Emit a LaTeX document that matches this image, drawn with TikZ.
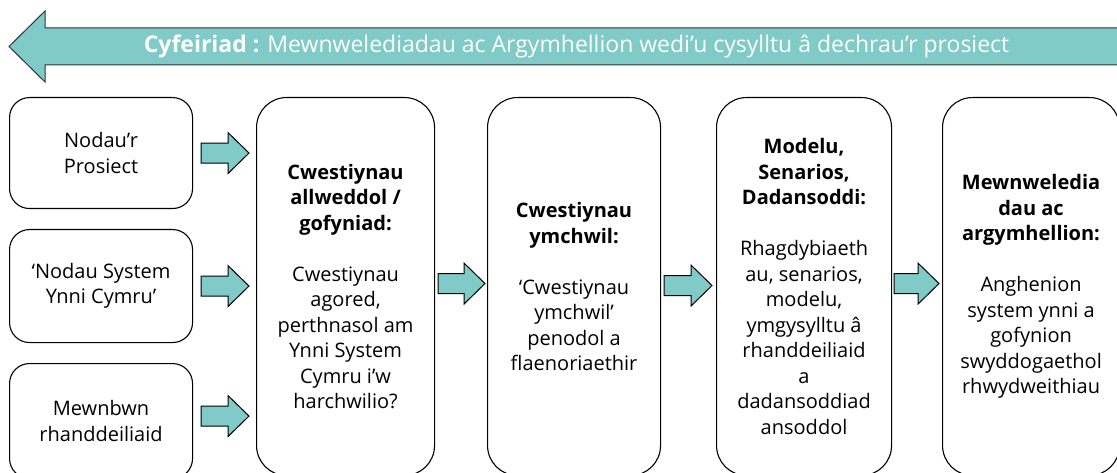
\documentclass[tikz,border=0pt]{standalone}
\usepackage{fontspec}
\setmainfont{Open Sans}
\usetikzlibrary{calc}
\definecolor{tealfill}{RGB}{128,202,199}
\tikzset{
  box/.style={draw=black, line width=1.1pt, rounded corners=20pt, fill=white,
    align=center, anchor=north west, inner sep=0pt,
    font=\fontsize{20}{25.5}\selectfont},
  bigbox/.style={box, rounded corners=30pt},
  fatarr/.style={draw=black, line width=1pt, fill=tealfill, line join=miter},
  banner/.style={draw=black!80, line width=1pt, fill=tealfill},
}
% block arrow from point #1 to tip #2 (drawn at the height of #1)
\newcommand\fatarrow[2]{%
  \draw[fatarr] let \p1=(#1), \p2=(#2) in
    (\x1,\y1+10pt) -- (\x2-21pt,\y1+10pt) -- (\x2-21pt,\y1+20.5pt) --
    (\x2,\y1) -- (\x2-21pt,\y1-20.5pt) -- (\x2-21pt,\y1-10pt) --
    (\x1,\y1-10pt) -- cycle;}
\begin{document}
\begin{tikzpicture}[x=1pt,y=-1pt]
  \useasboundingbox (0,0) rectangle (1117,473);
  \clip (0,0) rectangle (1117,473);

  % direction banner
  \draw[banner] (1130,28) -- (45,28) -- (45,11) -- (9,46.5) -- (45,82)
    -- (45,65) -- (1130,65) -- cycle;
  \node[text=white, font=\fontsize{23}{27}\selectfont, inner sep=0pt] (dir) at (576.5,46.5)
    {\textbf{Cyfeiriad :} Mewnwelediadau ac Argymhellion wedi’u cysylltu â dechrau’r prosiect};

  % inputs
  \node[box, minimum width=183, minimum height=111] (l1) at (9,97)
    {Nodau’r\\Prosiect};
  \node[box, minimum width=183, minimum height=113] (l2) at (9,229)
    {‘Nodau System\\Ynni Cymru’};
  \node[box, minimum width=183, minimum height=115] (l3) at (9,363)
    {Mewnbwn\\rhanddeiliaid};

  % stages
  \node[bigbox, minimum width=178, minimum height=378] (b1) at (256,97)
    {\textbf{Cwestiynau}\\\textbf{allweddol /}\\\textbf{gofyniad:}\\[25.5pt]
     Cwestiynau\\agored,\\perthnasol am\\Ynni System\\Cymru i’w\\harchwilio?};
  \node[bigbox, minimum width=173, minimum height=378] (b2) at (487,97)
    {\textbf{Cwestiynau}\\\textbf{ymchwil:}\\[25.5pt]
     ‘Cwestiynau\\ymchwil’\\penodol a\\flaenoriaethir};
  \node[bigbox, minimum width=175, minimum height=378] (b3) at (716,97)
    {\textbf{Modelu,}\\\textbf{Senarios,}\\\textbf{Dadansoddi:}\\[25.5pt]
     Rhagdybiaeth\\au, senarios,\\modelu,\\ymgysylltu â\\rhanddeiliaid\\a\\dadansoddiad\\ansoddol};
  \node[bigbox, minimum width=177, minimum height=378] (b4) at (942,97)
    {\textbf{Mewnweledia}\\\textbf{dau ac}\\\textbf{argymhellion:}\\[25.5pt]
     Anghenion\\system ynni a\\gofynion\\swyddogaethol\\rhwydweithiau};

  % flow arrows
  \fatarrow{$(l1.east)+(8,0)$}{$(b1.west)+(-7,0)$}
  \fatarrow{$(l2.east)+(8,0)$}{$(b1.west)+(-7,0)$}
  \fatarrow{$(l3.east)+(8,-5)$}{$(b1.west)+(-7,0)$}
  \fatarrow{$(b1.east)+(3,-3)$}{$(b2.west)+(-2,0)$}
  \fatarrow{$(b2.east)+(3,-1)$}{$(b3.west)+(-4,0)$}
  \fatarrow{$(b3.east)+(2,-3)$}{$(b4.west)+(-3,0)$}
\end{tikzpicture}
\end{document}
